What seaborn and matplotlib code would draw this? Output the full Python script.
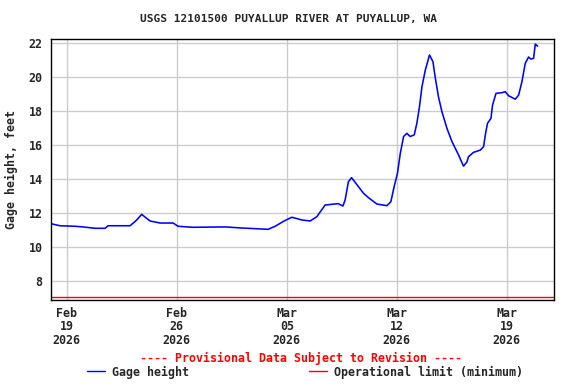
import pandas as pd
import matplotlib
matplotlib.use("Agg")
import matplotlib.pyplot as plt
import matplotlib.lines as mlines
import seaborn as sns

# days after 2026-02-18 00:00 and gage height (ft)
day_offset = [0.0, 0.57, 1.53, 2.04, 2.80, 3.44, 3.63, 5.03, 5.41, 5.77,
              6.30, 6.94, 7.77, 8.08, 8.98, 11.08, 12.09, 13.81, 14.26, 14.83,
              15.32, 15.96, 16.49, 16.91, 17.44, 18.27, 18.57, 18.71, 18.92, 19.12,
              19.56, 19.88, 20.20, 20.73, 21.37, 21.62, 21.83, 22.04, 22.22, 22.43,
              22.64, 22.85, 23.11, 23.28, 23.44, 23.60, 23.81, 24.08, 24.30, 24.44,
              24.65, 24.87, 25.19, 25.51, 25.93, 26.24, 26.46, 26.56, 26.88, 27.31,
              27.52, 27.63, 27.77, 27.99, 28.09, 28.31, 28.69, 28.90, 29.11, 29.54,
              29.75, 29.96, 30.17, 30.38, 30.53, 30.70, 30.81, 30.96]
gage_height = [11.37, 11.25, 11.22, 11.18, 11.10, 11.10, 11.25, 11.25, 11.55, 11.92,
               11.53, 11.41, 11.41, 11.22, 11.16, 11.18, 11.12, 11.04, 11.22, 11.53,
               11.75, 11.59, 11.53, 11.78, 12.47, 12.55, 12.41, 12.76, 13.84, 14.08,
               13.55, 13.16, 12.90, 12.53, 12.43, 12.66, 13.55, 14.33, 15.50, 16.50,
               16.69, 16.50, 16.60, 17.30, 18.25, 19.43, 20.40, 21.30, 20.90, 20.00,
               18.84, 17.96, 16.98, 16.20, 15.41, 14.76, 15.00, 15.31, 15.57, 15.70,
               15.90, 16.59, 17.28, 17.57, 18.35, 19.04, 19.08, 19.14, 18.90, 18.70,
               18.94, 19.73, 20.80, 21.18, 21.06, 21.10, 21.94, 21.82]
operational_limit = 7.05

tick_dates = ["2026-02-19", "2026-02-26", "2026-03-05", "2026-03-12", "2026-03-19"]
tick_labels = ["Feb\n19\n2026", "Feb\n26\n2026", "Mar\n05\n2026",
               "Mar\n12\n2026", "Mar\n19\n2026"]
y_ticks = [8, 10, 12, 14, 16, 18, 20, 22]

start = pd.Timestamp("2026-02-18")
df = pd.DataFrame({"time": start + pd.to_timedelta(day_offset, unit="D"),
                   "gage": gage_height})

sns.set_style("whitegrid")
plt.rcParams["font.family"] = ["DejaVu Sans Mono"]
plt.rcParams["font.weight"] = "bold"

fig = plt.figure(figsize=(5.76, 3.84), dpi=100)
ax = fig.add_axes([51 / 576, 1 - 300 / 384, 503 / 576, 261 / 384])

sns.lineplot(data=df, x="time", y="gage", ax=ax, color="#0000ff",
             linewidth=1.15, legend=False)
ax.axhline(operational_limit, color="#ff0000", linewidth=1.0)

ax.set_xlim(start, pd.Timestamp("2026-03-22"))
ax.set_ylim(6.88, 22.24)
ax.set_yticks(y_ticks)
ax.set_xticks(pd.to_datetime(tick_dates))
ax.set_xticklabels(tick_labels, fontsize=8.4, fontweight="bold", linespacing=1.05)
ax.tick_params(axis="y", labelsize=8.4, length=0, pad=6)
ax.tick_params(axis="x", length=0, pad=5)
ax.grid(True, color="#cccccc", linewidth=1.0)
for s in ax.spines.values():
    s.set_color("black")
    s.set_linewidth(1.0)

ax.set_xlabel("")
ax.set_ylabel("Gage height, feet", fontsize=8.4, fontweight="bold", labelpad=8)
fig.text(0.5, 1 - 19 / 384, "USGS 12101500 PUYALLUP RIVER AT PUYALLUP, WA",
         ha="center", va="center", fontsize=8.0, fontweight="bold")
fig.text(301 / 576, 1 - 358 / 384, "---- Provisional Data Subject to Revision ----",
         ha="center", va="center", color="#ff0000", fontsize=8.4, fontweight="bold")

handles = [mlines.Line2D([], [], color="#0000ff", linewidth=1.0),
           mlines.Line2D([], [], color="#ff0000", linewidth=1.0)]
fig.legend(handles, ["Gage height", "Operational limit (minimum)"],
           loc="center", bbox_to_anchor=(305 / 576, 1 - 372 / 384), ncol=2,
           frameon=False, fontsize=8.4, handlelength=1.5, handletextpad=0.6,
           columnspacing=10.3, borderpad=0, borderaxespad=0)

fig.savefig("out.png", dpi=100)
